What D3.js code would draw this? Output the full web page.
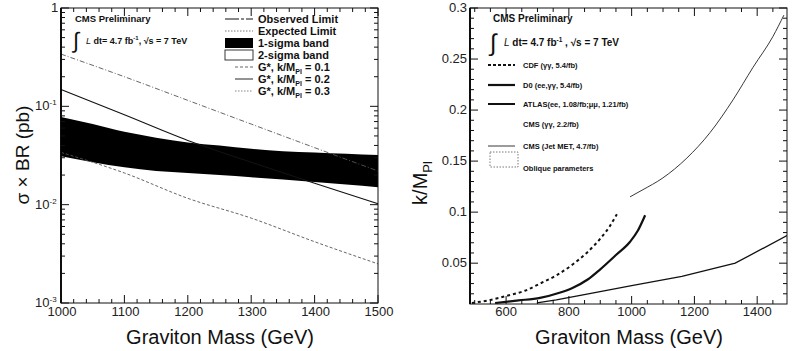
<!DOCTYPE html>
<html>
<head>
<meta charset="utf-8">
<script src="https://cdn.jsdelivr.net/npm/d3@7"></script>
<style>
  body { margin: 0; background: #fff; }
  svg { display: block; font-family: "Liberation Sans", Arial, sans-serif; }
  .leg { font-weight: bold; fill: #111; }
</style>
</head>
<body>
<svg id="chart" width="800" height="351"></svg>
<script>
// ---- left panel data: sigma x BR (pb) vs graviton mass ----
const massBand = [1000, 1050, 1100, 1150, 1200, 1250, 1300, 1350, 1400, 1450, 1500];
const sigma1Hi = [0.078, 0.066, 0.055, 0.048, 0.043, 0.040, 0.037, 0.035, 0.034, 0.033, 0.032];
const sigma1Lo = [0.031, 0.027, 0.024, 0.022, 0.021, 0.020, 0.019, 0.018, 0.017, 0.016, 0.015];
const observed = [0.050, 0.043, 0.037, 0.033, 0.030, 0.028, 0.027, 0.025, 0.024, 0.023, 0.022];
const expected = [0.048, 0.042, 0.036, 0.032, 0.030, 0.028, 0.026, 0.025, 0.024, 0.023, 0.022];
const massG = [1000, 1100, 1200, 1300, 1400, 1500];
const gK01 = [0.034, 0.021, 0.0116, 0.0073, 0.0042, 0.0025];
const gK02 = [0.148, 0.082, 0.045, 0.027, 0.0165, 0.0102];
const gK03 = [0.34, 0.20, 0.115, 0.066, 0.038, 0.022];
const leftXTicks = [1000, 1100, 1200, 1300, 1400, 1500];
const leftYTicks = [1, 0.1, 0.01, 0.001];
const leftYLabels = [["1", ""], ["10", "-1"], ["10", "-2"], ["10", "-3"]];

// ---- right panel data: k/M_Pl exclusion vs graviton mass ----
const cdfMass = [491, 550, 603, 660, 708, 760, 813, 860, 900, 930, 953];
const cdfK    = [0.011, 0.014, 0.018, 0.023, 0.030, 0.038, 0.049, 0.061, 0.074, 0.086, 0.098];
const d0Mass  = [565, 640, 708, 770, 813, 860, 900, 950, 995, 1020, 1043];
const d0K     = [0.011, 0.0135, 0.016, 0.021, 0.026, 0.034, 0.044, 0.058, 0.071, 0.082, 0.097];
const atlasMass = [698, 760, 845, 1000, 1160, 1330, 1495];
const atlasK    = [0.011, 0.014, 0.019, 0.028, 0.037, 0.050, 0.077];
const jetMass = [995, 1036, 1097, 1176, 1250, 1323, 1387, 1450, 1485];
const jetK    = [0.115, 0.122, 0.133, 0.153, 0.178, 0.21, 0.242, 0.272, 0.293];
const rightXTicks = [600, 800, 1000, 1200, 1400];
const rightYTicks = [0.05, 0.1, 0.15, 0.2, 0.25, 0.3];
const rightYLabels = ["0.05", "0.1", "0.15", "0.2", "0.25", "0.3"];

const svg = d3.select("#chart");

function frame(x0, x1, y0, y1) {
  svg.append("rect")
    .attr("x", x0).attr("y", y0)
    .attr("width", x1 - x0).attr("height", y1 - y0)
    .attr("fill", "none").attr("stroke", "#111").attr("stroke-width", 1);
  svg.append("line")
    .attr("x1", x0).attr("x2", x0).attr("y1", y0).attr("y2", y1)
    .attr("stroke", "#000").attr("stroke-width", 1.8);
}

function ticksX(x, vals, len, y0, y1) {
  vals.forEach(v => {
    svg.append("line").attr("x1", x(v)).attr("x2", x(v)).attr("y1", y1).attr("y2", y1 - len)
      .attr("stroke", "#111").attr("stroke-width", 1);
    svg.append("line").attr("x1", x(v)).attr("x2", x(v)).attr("y1", y0).attr("y2", y0 + len)
      .attr("stroke", "#111").attr("stroke-width", 1);
  });
}

function ticksY(y, vals, len, x0, x1) {
  vals.forEach(v => {
    svg.append("line").attr("x1", x0).attr("x2", x0 + len).attr("y1", y(v)).attr("y2", y(v))
      .attr("stroke", "#111").attr("stroke-width", 1);
    svg.append("line").attr("x1", x1).attr("x2", x1 - len).attr("y1", y(v)).attr("y2", y(v))
      .attr("stroke", "#111").attr("stroke-width", 1);
  });
}

function lineOf(x, y, xs, ys, curve) {
  return d3.line().x((d, i) => x(xs[i])).y(d => y(d)).curve(curve || d3.curveLinear)(ys);
}

// ================= left panel =================
{
  const X0 = 61, X1 = 378, Y0 = 8, Y1 = 303;
  const x = d3.scaleLinear().domain([1000, 1500]).range([X0, X1]);
  const y = d3.scaleLog().domain([0.001, 1]).range([Y1, Y0]);

  const g = svg.append("g");
  // observed / expected limits (lie inside the 1-sigma band)
  g.append("path").attr("d", lineOf(x, y, massBand, expected))
    .attr("fill", "none").attr("stroke", "#000").attr("stroke-dasharray", "2,2");
  g.append("path").attr("d", lineOf(x, y, massBand, observed))
    .attr("fill", "none").attr("stroke", "#000");

  // 1-sigma band
  const area = d3.area()
    .x((d, i) => x(massBand[i]))
    .y0((d, i) => y(sigma1Lo[i]))
    .y1(d => y(d))
    .curve(d3.curveMonotoneX);
  g.append("path").attr("d", area(sigma1Hi)).attr("fill", "#000");

  // G* theory curves
  g.append("path").attr("d", lineOf(x, y, massG, gK03, d3.curveMonotoneX))
    .attr("fill", "none").attr("stroke", "#555").attr("stroke-width", 0.9)
    .attr("stroke-dasharray", "5,2,1,2");
  g.append("path").attr("d", lineOf(x, y, massG, gK02, d3.curveMonotoneX))
    .attr("fill", "none").attr("stroke", "#111").attr("stroke-width", 1.1);
  g.append("path").attr("d", lineOf(x, y, massG, gK01, d3.curveMonotoneX))
    .attr("fill", "none").attr("stroke", "#555").attr("stroke-width", 0.9)
    .attr("stroke-dasharray", "3,2");

  frame(X0, X1, Y0, Y1);
  ticksX(x, d3.range(1000, 1501, 20).filter(v => v % 100), 4, Y0, Y1);
  ticksX(x, leftXTicks, 8, Y0, Y1);
  const minorY = [];
  [0.001, 0.01, 0.1].forEach(d => { for (let k = 2; k <= 9; k++) minorY.push(d * k); });
  ticksY(y, minorY, 4, X0, X1);
  ticksY(y, leftYTicks, 8, X0, X1);

  // tick labels
  leftXTicks.forEach(v => {
    svg.append("text").attr("x", x(v) + 1).attr("y", 316).attr("text-anchor", "middle")
      .attr("font-size", 13).attr("fill", "#222").text(v);
  });
  leftYTicks.forEach((v, i) => {
    const t = svg.append("text").attr("x", leftYLabels[i][1] ? 35 : 51).attr("y", y(v) + 4)
      .attr("font-size", 13).attr("fill", "#222");
    t.append("tspan").text(leftYLabels[i][0]);
    if (leftYLabels[i][1]) t.append("tspan").attr("dy", -5).attr("font-size", 8).text(leftYLabels[i][1]);
  });

  // axis titles
  svg.append("text").attr("x", 220).attr("y", 344).attr("text-anchor", "middle")
    .attr("font-size", 20).attr("fill", "#111").text("Graviton Mass (GeV)");
  svg.append("text").attr("transform", "translate(29,155) rotate(-90)").attr("text-anchor", "middle")
    .attr("font-size", 19).attr("fill", "#111").text("σ × BR (pb)");

  // header text
  svg.append("text").attr("class", "leg").attr("x", 75).attr("y", 22).attr("font-size", 9.5)
    .text("CMS Preliminary");
  svg.append("text").attr("x", 73).attr("y", 48).attr("font-size", 22).attr("fill", "#111").text("∫");
  const lum = svg.append("text").attr("class", "leg").attr("x", 86).attr("y", 44).attr("font-size", 9);
  lum.append("tspan").attr("font-style", "italic").attr("font-weight", "normal").text("L");
  lum.append("tspan").text(" dt=  4.7 fb");
  lum.append("tspan").attr("dy", -4).attr("font-size", 6).text("-1");
  lum.append("tspan").attr("dy", 4).text(", √s = 7 TeV");

  // legend
  const lx0 = 225, lx1 = 253, tx = 258;
  const rows = [19, 31, 43, 55, 67, 79, 91];
  const labels = ["Observed Limit", "Expected Limit", "1-sigma band", "2-sigma band"];
  labels.forEach((s, i) => {
    svg.append("text").attr("class", "leg").attr("x", tx).attr("y", rows[i] + 4)
      .attr("font-size", 11).text(s);
  });
  svg.append("line").attr("x1", lx0).attr("x2", lx1).attr("y1", rows[0]).attr("y2", rows[0])
    .attr("stroke", "#111").attr("stroke-dasharray", "14,2,3,2");
  svg.append("line").attr("x1", lx0).attr("x2", lx1).attr("y1", rows[1]).attr("y2", rows[1])
    .attr("stroke", "#555").attr("stroke-width", 0.8).attr("stroke-dasharray", "1.5,1.5");
  svg.append("rect").attr("x", lx0).attr("y", rows[2] - 5).attr("width", lx1 - lx0).attr("height", 10)
    .attr("fill", "#000");
  svg.append("rect").attr("x", lx0).attr("y", rows[3] - 5).attr("width", lx1 - lx0).attr("height", 10)
    .attr("fill", "#fff").attr("stroke", "#222").attr("stroke-width", 0.9);
  const gk = ["0.1", "0.2", "0.3"];
  const gStyle = [["#555", "3,2"], ["#111", null], ["#777", "1.5,1.5"]];
  gk.forEach((k, i) => {
    const r = rows[4 + i];
    const l = svg.append("line").attr("x1", lx0 + 10).attr("x2", lx1).attr("y1", r).attr("y2", r)
      .attr("stroke", gStyle[i][0]).attr("stroke-width", 0.9);
    if (gStyle[i][1]) l.attr("stroke-dasharray", gStyle[i][1]);
    const t = svg.append("text").attr("class", "leg").attr("x", tx).attr("y", r + 4).attr("font-size", 11);
    t.append("tspan").text("G*, k/M");
    t.append("tspan").attr("dy", 3).attr("font-size", 7).text("Pl");
    t.append("tspan").attr("dy", -3).text(" = " + k);
  });
}

// ================= right panel =================
{
  const X0 = 470, X1 = 787, Y0 = 8, Y1 = 304;
  const x = d3.scaleLinear().domain([485, 1495]).range([X0, X1]);
  const y = d3.scaleLinear().domain([0.01, 0.3]).range([Y1, Y0]);

  const clipId = "clipR";
  svg.append("clipPath").attr("id", clipId).append("rect")
    .attr("x", X0).attr("y", Y0).attr("width", X1 - X0).attr("height", Y1 - Y0);
  const g = svg.append("g").attr("clip-path", `url(#${clipId})`);

  g.append("path").attr("d", lineOf(x, y, cdfMass, cdfK, d3.curveMonotoneX))
    .attr("fill", "none").attr("stroke", "#111").attr("stroke-width", 2)
    .attr("stroke-dasharray", "3,3");
  g.append("path").attr("d", lineOf(x, y, d0Mass, d0K, d3.curveMonotoneX))
    .attr("fill", "none").attr("stroke", "#111").attr("stroke-width", 2.2);
  g.append("path").attr("d", lineOf(x, y, atlasMass, atlasK))
    .attr("fill", "none").attr("stroke", "#111").attr("stroke-width", 1.3);
  g.append("path").attr("d", lineOf(x, y, jetMass, jetK, d3.curveMonotoneX))
    .attr("fill", "none").attr("stroke", "#222").attr("stroke-width", 0.9);

  frame(X0, X1, Y0, Y1);
  ticksX(x, d3.range(500, 1500, 50).filter(v => v % 200), 4, Y0, Y1);
  ticksX(x, rightXTicks, 8, Y0, Y1);
  const minorY = d3.range(0.02, 0.3, 0.01).filter(v => Math.abs(v * 20 - Math.round(v * 20)) > 1e-6);
  ticksY(y, minorY, 4, X0, X1);
  ticksY(y, rightYTicks, 8, X0, X1);

  rightXTicks.forEach(v => {
    svg.append("text").attr("x", x(v)).attr("y", 316).attr("text-anchor", "middle")
      .attr("font-size", 13).attr("fill", "#222").text(v);
  });
  rightYTicks.forEach((v, i) => {
    svg.append("text").attr("x", X0 - 3).attr("y", y(v) + 4).attr("text-anchor", "end")
      .attr("font-size", 13).attr("fill", "#222").text(rightYLabels[i]);
  });

  svg.append("text").attr("x", 629).attr("y", 344).attr("text-anchor", "middle")
    .attr("font-size", 20).attr("fill", "#111").text("Graviton Mass (GeV)");
  const yt = svg.append("text").attr("transform", "translate(427,183) rotate(-90)")
    .attr("text-anchor", "middle").attr("font-size", 20).attr("fill", "#111");
  yt.append("tspan").text("k/M");
  yt.append("tspan").attr("dy", 5).attr("font-size", 13).text("Pl");

  // header
  svg.append("text").attr("class", "leg").attr("x", 493).attr("y", 22).attr("font-size", 10)
    .text("CMS Preliminary");
  svg.append("text").attr("x", 490).attr("y", 51).attr("font-size", 24).attr("fill", "#111").text("∫");
  const lum = svg.append("text").attr("class", "leg").attr("x", 504).attr("y", 46).attr("font-size", 10);
  lum.append("tspan").attr("font-style", "italic").attr("font-weight", "normal").text("L");
  lum.append("tspan").text("  dt=  4.7 fb");
  lum.append("tspan").attr("dy", -4).attr("font-size", 6.5).text("-1");
  lum.append("tspan").attr("dy", 4).text(" , √s = 7 TeV");

  // legend
  const lx0 = 488, lx1 = 515, tx = 523;
  const rows = [65, 85, 104, 124, 146];
  const names = ["CDF (γγ, 5.4/fb)", "D0 (ee,γγ, 5.4/fb)", "ATLAS(ee, 1.08/fb;μμ, 1.21/fb)",
                 "CMS (γγ, 2.2/fb)", "CMS (Jet MET, 4.7/fb)"];
  names.forEach((s, i) => {
    svg.append("text").attr("class", "leg").attr("x", tx).attr("y", rows[i] + 3)
      .attr("font-size", 7.5).text(s);
  });
  svg.append("line").attr("x1", lx0).attr("x2", lx1).attr("y1", rows[0]).attr("y2", rows[0])
    .attr("stroke", "#111").attr("stroke-width", 2).attr("stroke-dasharray", "3,2");
  svg.append("line").attr("x1", lx0).attr("x2", lx1).attr("y1", rows[1]).attr("y2", rows[1])
    .attr("stroke", "#111").attr("stroke-width", 2.2);
  svg.append("line").attr("x1", lx0).attr("x2", lx1).attr("y1", rows[2]).attr("y2", rows[2])
    .attr("stroke", "#111").attr("stroke-width", 2);
  svg.append("line").attr("x1", lx0).attr("x2", lx1).attr("y1", rows[4]).attr("y2", rows[4])
    .attr("stroke", "#222").attr("stroke-width", 0.9);
  svg.append("rect").attr("x", 490).attr("y", 152).attr("width", 28).attr("height", 15)
    .attr("fill", "none").attr("stroke", "#555").attr("stroke-width", 0.8)
    .attr("stroke-dasharray", "1.5,1.5");
  svg.append("text").attr("class", "leg").attr("x", tx).attr("y", 171)
    .attr("font-size", 7.5).text("Oblique parameters");
}
</script>
</body>
</html>
